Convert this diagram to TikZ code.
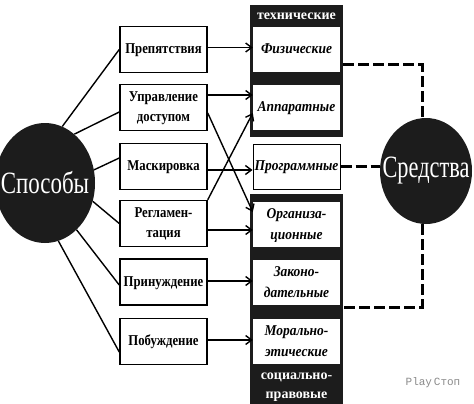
\documentclass[tikz,border=0pt]{standalone}
\usepackage{fontspec}
\setmainfont{Liberation Serif}
\setmonofont{Liberation Mono}
\usetikzlibrary{arrows.meta,shapes.geometric}
\definecolor{dark}{HTML}{1C1C1C}
\definecolor{wm}{HTML}{8A8A8A}
\newcommand\cxl[1]{\scalebox{0.85}[1]{\begin{tabular}{@{}c@{}}#1\end{tabular}}}
\newcommand\cxr[1]{\scalebox{0.9}[1]{\begin{tabular}{@{}c@{}}#1\end{tabular}}}
\begin{document}
\begin{tikzpicture}[x=1pt,y=-1pt,
  lbox/.style={draw=black,line width=1.5pt,fill=white,minimum width=87pt,minimum height=46pt,inner sep=0pt,
    font=\fontsize{15}{20}\selectfont\bfseries},
  rbox/.style={fill=white,minimum width=87pt,minimum height=45pt,inner sep=0pt,
    font=\fontsize{15}{21}\selectfont\bfseries\itshape},
  panel/.style={fill=dark,inner sep=0pt,minimum width=93pt},
  ptext/.style={text=white,font=\fontsize{14}{19}\selectfont\bfseries,align=center,inner sep=0pt},
  blob/.style={ellipse,fill=dark,inner sep=0pt},
  btext/.style={text=white,font=\fontsize{31}{31}\selectfont,inner sep=0pt},
  arr/.style={line width=1.4pt,-{Straight Barb[length=6pt,width=9pt,line width=1.4pt]}},
  ln/.style={line width=1.4pt},
  dsh/.style={line width=3pt,dash pattern=on 11pt off 4pt}
]
\useasboundingbox (0,0) rectangle (474,404);

% dark panels
\node[panel,minimum height=132pt] (T) at (296.5,71) {};
\node[panel,minimum height=212pt] (B) at (296.5,300) {};
\node[ptext] (TH) at (296.5,16) {технические};
\node[ptext] (BH) at (296.5,387) {социально-\\правовые};

% left boxes
\node[lbox] (L1) at (163.5,49.5) {\cxl{Препятствия}};
\node[lbox] (L2) at (163.5,107.5) {\cxl{Управление\\доступом}};
\node[lbox] (L3) at (163.5,166.5) {\cxl{Маскировка}};
\node[lbox] (L4) at (163.5,223.5) {\cxl{Регламен-\\тация}};
\node[lbox] (L5) at (163.5,282) {\cxl{Принуждение}};
\node[lbox] (L6) at (163.5,341.5) {\cxl{Побуждение}};

% right boxes
\node[rbox] (R1) at (296.5,49.5) {\cxr{Физические}};
\node[rbox] (R2) at (296.5,107.5) {\cxr{Аппаратные}};
\node[rbox,draw=black,line width=1pt] (R3) at (296.5,166.5) {\cxr{Программные}};
\node[rbox] (R4) at (296.5,224.5) {\cxr{Организа-\\ционные}};
\node[rbox] (R5) at (296.5,282.5) {\cxr{Законо-\\дательные}};
\node[rbox] (R6) at (296.5,341.5) {\cxr{Морально-\\этические}};

% blobs
\node[blob,minimum width=100pt,minimum height=120pt] (S) at (45,183) {};
\node[btext] (St) at (S) {\scalebox{0.74}[1]{Способы}};
\node[blob,minimum width=92pt,minimum height=106pt] (D) at (426,171) {};
\node[btext] (Dt) at (D) {\scalebox{0.72}[1]{Средства}};

% lines from Способы
\draw[ln] (S.73) -- (L1.west);
\draw[ln] (S.59) -- ([yshift=-4.5pt]L2.west);
\draw[ln] (S.15) -- ([yshift=8.5pt]L3.west);
\draw[ln] (S.-21) -- (L4.west);
\draw[ln] (S.-56) -- ([yshift=-3pt]L5.west);
\draw[ln] (S.-77) -- ([yshift=-10.5pt]L6.west);

% arrows
\draw[arr] ([yshift=2pt]L1.east) coordinate (a1) -- (a1 -| R1.west);
\draw[arr] ([yshift=12.5pt]L2.east) coordinate (a2) -- (a2 -| R2.west);
\draw[arr] ([yshift=-5.5pt]L2.east) -- ([yshift=12.5pt]R4.west);
\draw[arr] (L4.north east) -- ([yshift=-5.5pt]R2.west);
\draw[arr] ([yshift=-3.5pt]L3.east) coordinate (a3) -- (a3 -| R3.west);
\draw[arr] ([yshift=-6.5pt]L4.east) coordinate (a4) -- (a4 -| R4.west);
\draw[arr] ([yshift=1pt]L5.east) coordinate (a5) -- (a5 -| R5.west);
\draw[arr] ([yshift=1.5pt]L6.east) coordinate (a6) -- (a6 -| R6.west);

% dashed connections
\coordinate (c1) at (422,65);
\coordinate (c2) at (422,307);
\draw[dsh] (T.east |- c1) -- (c1) -- (c1 |- D.north);
\draw[dsh] (R3.east) -- (R3.east -| D.west);
\draw[dsh] (c2 |- D.south) -- (c2) -- (B.east |- c2);

% watermark
\node[text=wm,font=\ttfamily\fontsize{11}{11}\selectfont,inner sep=0pt] (W) at (433,383) {Play\,Стоп};
\end{tikzpicture}
\end{document}
